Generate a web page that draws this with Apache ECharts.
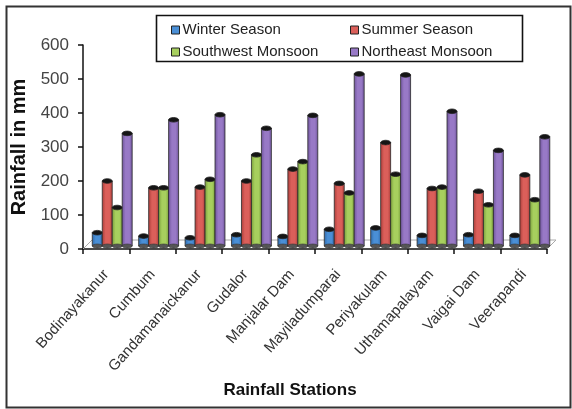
<!DOCTYPE html>
<html>
<head>
<meta charset="utf-8">
<script src="https://cdn.jsdelivr.net/npm/echarts@6/dist/echarts.min.js"></script>
<style>
html, body { margin: 0; padding: 0; background: #fff; }
#chart { width: 572px; height: 409px; }
</style>
</head>
<body>
<div id="chart"></div>
<script>
// Rainfall (mm) per station and season
const stations = ['Bodinayakanur', 'Cumbum', 'Gandamanaickanur', 'Gudalor', 'Manjalar Dam',
  'Mayiladumparai', 'Periyakulam', 'Uthamapalayam', 'Vaigai Dam', 'Veerapandi'];
const winterSeason = [48, 38, 33, 42, 37, 58, 62, 40, 42, 40];
const summerSeason = [200, 180, 182, 200, 235, 193, 313, 178, 170, 218];
const southwestMonsoon = [122, 180, 205, 277, 257, 165, 220, 182, 130, 145];
const northeastMonsoon = [340, 380, 395, 355, 393, 515, 512, 405, 290, 330];
const yTicks = [0, 100, 200, 300, 400, 500, 600];

const seasons = [
  { name: 'Winter Season', data: winterSeason, color: '#4a8fd6', dark: '#2f68a8' },
  { name: 'Summer Season', data: summerSeason, color: '#db5f5a', dark: '#a83c38' },
  { name: 'Southwest Monsoon', data: southwestMonsoon, color: '#a7cf5e', dark: '#789d3a' },
  { name: 'Northeast Monsoon', data: northeastMonsoon, color: '#9879c6', dark: '#6d5399' }
];

const FONT = '"Liberation Sans", Arial, sans-serif';
const FLOOR_DEPTH = 9;

// One cylinder per data item, placed by the category/value scales
function cylinderRenderer(k, color, dark) {
  return function (params, api) {
    const ci = api.value(0);
    const v = api.value(1);
    const top = api.coord([ci, v]);
    const base = api.coord([ci, 0]);
    const cw = api.size([1, 0])[0];
    const bw = cw * 0.215;
    const depth = cw * 0.13;
    const x0 = base[0] - 2 * bw + k * bw + depth;
    const yb = base[1] - 3;
    const yt = top[1];
    const fill = new echarts.graphic.LinearGradient(0, 0, 1, 0, [
      { offset: 0, color: dark },
      { offset: 0.35, color: color },
      { offset: 0.7, color: color },
      { offset: 1, color: dark }
    ]);
    return {
      type: 'group',
      children: [
        {
          type: 'rect',
          shape: { x: x0, y: yt, width: bw, height: Math.max(0, yb - yt) },
          style: { fill: fill, stroke: '#2a2a2a', lineWidth: 0.8 }
        },
        {
          type: 'ellipse',
          shape: { cx: x0 + bw / 2, cy: yb, rx: bw / 2, ry: 2 },
          style: { fill: '#555', stroke: '#333', lineWidth: 0.6 }
        },
        {
          type: 'ellipse',
          shape: { cx: x0 + bw / 2, cy: yt, rx: bw / 2, ry: 2.3 },
          style: { fill: '#151515', stroke: '#222', lineWidth: 0.8 }
        }
      ]
    };
  };
}

// Receding floor outline under the columns
function floorRenderer(params, api) {
  const cw = api.size([1, 0])[0];
  const a = api.coord([0, 0]);
  const b = api.coord([stations.length - 1, 0]);
  const xl = a[0] - cw / 2;
  const xr = b[0] + cw / 2;
  const y = a[1];
  return {
    type: 'polyline',
    shape: { points: [[xl, y], [xl + FLOOR_DEPTH, y - FLOOR_DEPTH], [xr + FLOOR_DEPTH, y - FLOOR_DEPTH], [xr, y]] },
    style: { fill: 'none', stroke: '#aaa', lineWidth: 1 }
  };
}

const series = seasons.map(function (s, k) {
  return {
    name: s.name,
    type: 'custom',
    itemStyle: { color: s.color },
    renderItem: cylinderRenderer(k, s.color, s.dark),
    encode: { x: 0, y: 1 },
    data: s.data.map(function (v, i) { return [i, v]; }),
    z: 3
  };
});
series.unshift({
  name: 'floor',
  type: 'custom',
  renderItem: floorRenderer,
  encode: { x: 0, y: 1 },
  data: [[0, 0]],
  silent: true,
  z: 1
});

const chart = echarts.init(document.getElementById('chart'), null, { renderer: 'canvas' });

const legendCommon = {
  orient: 'vertical',
  top: 17,
  itemWidth: 8,
  itemHeight: 8,
  itemGap: 6,
  icon: 'rect',
  itemStyle: { borderColor: '#222', borderWidth: 1 },
  textStyle: { fontFamily: FONT, fontSize: 15, color: '#222', lineHeight: 16, padding: [0, 0, 0, -2] }
};

chart.setOption({
  animation: false,
  backgroundColor: '#fff',
  grid: { left: 83, right: 25, top: 45, bottom: 160, containLabel: false },
  legend: [
    Object.assign({}, legendCommon, { left: 166, data: ['Winter Season', 'Southwest Monsoon'] }),
    Object.assign({}, legendCommon, { left: 345, data: ['Summer Season', 'Northeast Monsoon'] })
  ],
  graphic: [
    {
      type: 'rect', left: 4, top: 4, z: 0,
      shape: { width: 564, height: 401 },
      style: { fill: 'none', stroke: '#333', lineWidth: 2 }
    },
    {
      type: 'rect', left: 154, top: 13, z: 5,
      shape: { width: 366, height: 46 },
      style: { fill: 'none', stroke: '#111', lineWidth: 1.6 }
    }
  ],
  xAxis: {
    type: 'category',
    data: stations,
    name: 'Rainfall Stations',
    nameLocation: 'middle',
    nameGap: 133,
    nameTextStyle: { fontFamily: FONT, fontSize: 17, fontWeight: 'bold', color: '#111', padding: [0, 50, 0, 0] },
    axisLine: { lineStyle: { color: '#111', width: 1.5 } },
    axisTick: { show: true, alignWithLabel: false, length: 5, lineStyle: { color: '#111', width: 1.5 } },
    axisLabel: {
      rotate: 48,
      margin: 23,
      interval: 0,
      fontFamily: FONT,
      fontSize: 15,
      color: '#333'
    },
    splitLine: { show: false }
  },
  yAxis: {
    type: 'value',
    min: yTicks[0],
    max: yTicks[yTicks.length - 1],
    interval: 100,
    name: 'Rainfall in mm',
    nameLocation: 'middle',
    nameGap: 48,
    nameRotate: 90,
    nameTextStyle: { fontFamily: FONT, fontSize: 20, fontWeight: 'bold', color: '#111' },
    axisLine: { show: true, lineStyle: { color: '#111', width: 1.5 } },
    axisTick: { show: true, length: 5, lineStyle: { color: '#111', width: 1.5 } },
    axisLabel: { fontFamily: FONT, fontSize: 17, color: '#444', margin: 14 },
    splitLine: { show: false }
  },
  series: series
});
</script>
</body>
</html>
